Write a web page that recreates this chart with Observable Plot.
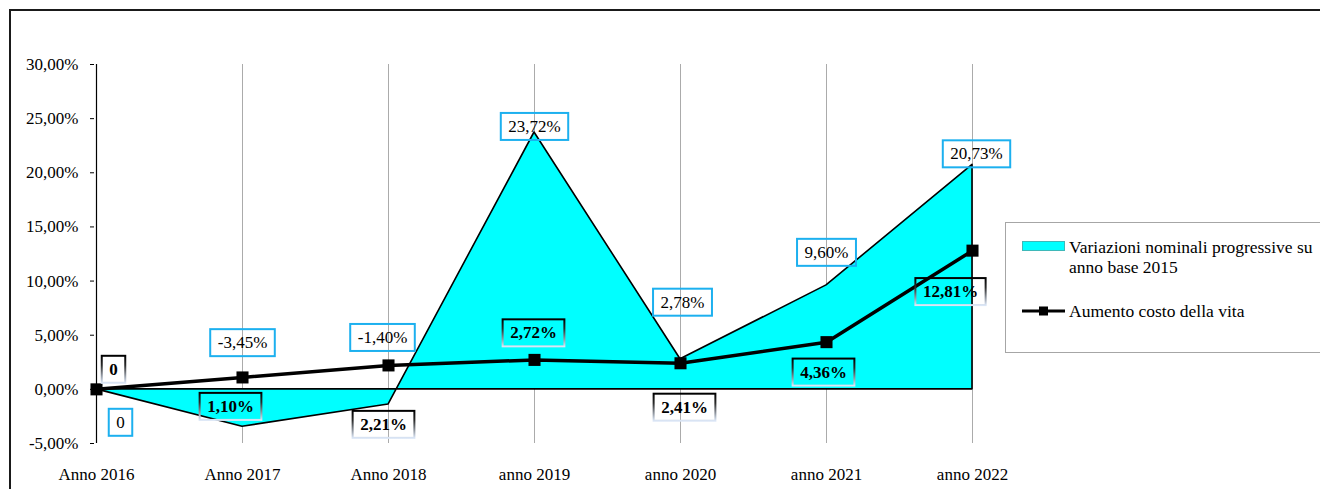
<!DOCTYPE html>
<html><head><meta charset="utf-8">
<script src="https://cdn.jsdelivr.net/npm/d3@7"></script>
<script src="https://cdn.jsdelivr.net/npm/@observablehq/plot@0.6"></script>
<style>
body{margin:0;background:#fff;}
#wrap{position:relative;width:1320px;height:489px;overflow:hidden;font-family:"Liberation Serif","Times New Roman",serif;}
#frame{position:absolute;left:9px;top:9px;width:1400px;height:600px;border:2px solid #1a1a1a;box-sizing:border-box;}
#chart{position:absolute;left:0;top:0;}
#legend{position:absolute;left:1005px;top:222px;}
</style></head>
<body>
<div id="wrap">
  <div id="frame"></div>
  <div id="chart"></div>
  <svg id="legend" width="315" height="131" font-family="Liberation Serif, Times New Roman, serif" font-size="17.5">
    <rect x="0.5" y="0.5" width="400" height="130" fill="#fff" stroke="#a6a6a6"/>
    <rect x="17.5" y="19.5" width="42" height="9" fill="#00ffff" stroke="#3fb8b8" stroke-width="1"/>
    <text x="64" y="30.5">Variazioni nominali progressive su</text>
    <text x="64" y="50.5">anno base 2015</text>
    <line x1="17" x2="60" y1="89" y2="89" stroke="#000" stroke-width="3"/>
    <rect x="34" y="84.5" width="9" height="9" fill="#000"/>
    <text x="64" y="94.5">Aumento costo della vita</text>
  </svg>
</div>
<script>
// ---- data ----
const years = ["Anno 2016","Anno 2017","Anno 2018","anno 2019","anno 2020","anno 2021","anno 2022"];
const nominalVariation = [0, -3.45, -1.40, 23.72, 2.78, 9.60, 20.73];   // % vs 2015
const costOfLiving = [0, 1.10, 2.21, 2.72, 2.41, 4.36, 12.81];          // %
const yTicks = [-5, 0, 5, 10, 15, 20, 25, 30];
// label placement offsets (px) relative to each point
const nominalLabelOffset = [[24,33],[0,-84],[-6,-67],[0,-6],[2,-57],[0,-33],[4,-11]];
const costLabelOffset = [[17,-20],[-12,29],[-5,59],[-1,-27],[4,44],[-3,30],[-22,41]];

const fmtPct = v => v === 0 ? "0" : v.toFixed(2).replace(".", ",") + "%";
const nominal = years.map((y, i) => ({year: y, v: nominalVariation[i]}));
const cost = years.map((y, i) => ({year: y, v: costOfLiving[i]}));

const nominalLabels = nominal.map((d, i) => Plot.text([d], {
  x: "year", y: "v", text: d => fmtPct(d.v),
  dx: nominalLabelOffset[i][0], dy: nominalLabelOffset[i][1],
  fill: "#000", className: "lblA"
}));
const costLabels = cost.map((d, i) => Plot.text([d], {
  x: "year", y: "v", text: d => fmtPct(d.v),
  dx: costLabelOffset[i][0], dy: costLabelOffset[i][1],
  fill: "#000", fontWeight: "bold", className: "lblB"
}));

const svg = Plot.plot({
  width: 1320, height: 489,
  marginLeft: 94, marginRight: 346, marginTop: 64, marginBottom: 46,
  style: {fontFamily: "Liberation Serif, Times New Roman, serif", fontSize: "17px", background: "transparent", overflow: "visible"},
  x: {type: "point", domain: years, padding: 0, label: null},
  y: {domain: [-5, 30], label: null},
  marks: [
    Plot.ruleX(years.slice(1), {stroke: "#ababab", strokeWidth: 1}),
    Plot.areaY(nominal, {x: "year", y: "v", fill: "#00ffff", stroke: "#000", strokeWidth: 1.6}),
    Plot.ruleX([years[0]], {stroke: "#000", strokeWidth: 1.2}),
    Plot.axisY({ticks: yTicks, tickSize: 4, tickPadding: 12, label: null, tickFormat: d => d.toFixed(2).replace(".", ",") + "%", stroke: "#000"}),
    Plot.axisX({tickSize: 0, tickPadding: 24, label: null}),
    Plot.line(cost, {x: "year", y: "v", stroke: "#000", strokeWidth: 3.5}),
    Plot.dot(cost, {x: "year", y: "v", symbol: "square", r: 6.8, fill: "#000"}),
    ...nominalLabels,
    ...costLabels
  ]
});
document.getElementById("chart").appendChild(svg);

// gradient for bold-label frames
const ns = "http://www.w3.org/2000/svg";
const defs = document.createElementNS(ns, "defs");
defs.innerHTML = `<linearGradient id="gB" x1="0" y1="0" x2="0" y2="1">
  <stop offset="0" stop-color="#000"/><stop offset="0.35" stop-color="#2a2a2a"/>
  <stop offset="1" stop-color="#dbe6f6"/></linearGradient>`;
svg.insertBefore(defs, svg.firstChild);

function boxify(cls, stroke) {
  svg.querySelectorAll("g." + cls + " text").forEach(t => {
    const b = t.getBBox();
    const r = document.createElementNS(ns, "rect");
    const w = b.width + 15, h = 27;
    r.setAttribute("x", b.x + b.width / 2 - w / 2);
    r.setAttribute("y", b.y + b.height / 2 - h / 2);
    r.setAttribute("width", w);
    r.setAttribute("height", h);
    r.setAttribute("fill", "none");
    r.setAttribute("stroke", stroke);
    r.setAttribute("stroke-width", 2);
    const tr = t.getAttribute("transform");
    if (tr) r.setAttribute("transform", tr);
    t.parentNode.insertBefore(r, t);
  });
}
boxify("lblA", "#1cb0ef");
boxify("lblB", "url(#gB)");
</script>
</body></html>
